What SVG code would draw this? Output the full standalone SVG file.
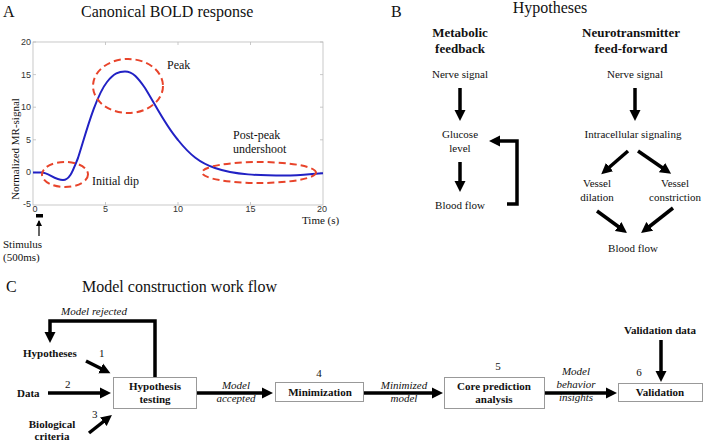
<svg xmlns="http://www.w3.org/2000/svg" width="705" height="443" viewBox="0 0 705 443" font-family="'Liberation Serif', 'DejaVu Serif', serif">
<style>
text{font-family:'Liberation Serif','DejaVu Serif',serif;fill:#111}
.t16{font-size:16px}
.t12{font-size:12px}
.t11{font-size:11px}
.b13{font-size:13px;font-weight:bold}
.b11{font-size:11px;font-weight:bold}
.i11{font-size:11px;font-style:italic}
text.tick{font-family:'Liberation Sans',Arial,sans-serif;font-size:9px;fill:#333}
.mid{text-anchor:middle}
.ell{fill:none;stroke:#e8442b;stroke-width:2;stroke-dasharray:7 4}
.arr{stroke:#000;stroke-width:3.5;fill:none;marker-end:url(#ah)}
.box{fill:#fff;stroke:#999;stroke-width:1}
</style>
<defs>
<marker id="ah" markerUnits="userSpaceOnUse" markerWidth="12" markerHeight="12" refX="6" refY="6" orient="auto">
<path d="M0,0.5 L11,6 L0,11.5 z" fill="#000"/>
</marker>
<marker id="sa" markerUnits="userSpaceOnUse" markerWidth="8" markerHeight="8" refX="5" refY="4" orient="auto">
<path d="M0,1 L6,4 L0,7 z" fill="#000"/>
</marker>
</defs>

<!-- Panel A -->
<g id="panelA">
<text class="t16" x="3" y="17">A</text>
<text class="t16" x="81" y="17">Canonical BOLD response</text>
<rect x="33" y="42" width="290" height="163" fill="#fff" stroke="#bbb" stroke-width="0.8"/>
<g stroke="#bbb" stroke-width="0.8">
<path d="M33,42h3M33,74.6h3M33,107.2h3M33,139.8h3M33,172.4h3M320,42h3M320,74.6h3M320,107.2h3M320,139.8h3M320,172.4h3"/>
<path d="M105.5,205v-3M178,205v-3M250.5,205v-3M105.5,42v3M178,42v3M250.5,42v3"/>
</g>
<g>
<text class="tick" x="31" y="45" text-anchor="end">20</text>
<text class="tick" x="31" y="77.6" text-anchor="end">15</text>
<text class="tick" x="31" y="110.2" text-anchor="end">10</text>
<text class="tick" x="31" y="142.8" text-anchor="end">5</text>
<text class="tick" x="31" y="175.4" text-anchor="end">0</text>
<text class="tick" x="31" y="207" text-anchor="end">-5</text>
<text class="tick" x="35" y="212" text-anchor="middle">0</text>
<text class="tick" x="105.5" y="212" text-anchor="middle">5</text>
<text class="tick" x="178" y="212" text-anchor="middle">10</text>
<text class="tick" x="250.5" y="212" text-anchor="middle">15</text>
<text class="tick" x="322" y="212" text-anchor="middle">20</text>
</g>
<text class="t11" x="302" y="224">Time (s)</text>
<text class="t11 mid" transform="translate(19,149) rotate(-90)">Normalized MR-signal</text>
<path d="M33,172.4 L42,172.4 C48,172.4 55,180 63,180 C70,180 73,170 78,158 C84,140 95,97 107,82 C114,73 119,71.6 125,71.6 C133,71.6 138,78 145,88 C155,104 165,125 178,140 C190,155 200,163 215,168 C235,175 260,175.5 285,175.5 C300,175.5 315,173.5 323,173.2" fill="none" stroke="#2121c4" stroke-width="2"/>
<ellipse class="ell" cx="65" cy="174.5" rx="23" ry="12.5"/>
<ellipse class="ell" cx="128" cy="86" rx="35" ry="27"/>
<ellipse class="ell" cx="259" cy="172.5" rx="57" ry="10.5"/>
<text class="t12" x="167" y="69">Peak</text>
<text class="t12" x="233" y="139">Post-peak</text>
<text class="t12" x="233" y="153">undershoot</text>
<text class="t12" x="92" y="185">Initial dip</text>
<rect x="36" y="214" width="7" height="3.5" fill="#000"/>
<line x1="39" y1="236" x2="39" y2="221" stroke="#000" stroke-width="1.2" marker-end="url(#sa)"/>
<text class="t11" x="3" y="248">Stimulus</text>
<text class="t11" x="3" y="261">(500ms)</text>
</g>

<!-- Panel B -->
<g id="panelB-titles">
<text class="t16" x="391" y="17">B</text>
<text class="t16 mid" x="550" y="13">Hypotheses</text>
<text class="b13 mid" x="460" y="37">Metabolic</text>
<text class="b13 mid" x="460" y="53">feedback</text>
<text class="b13 mid" x="631" y="37">Neurotransmitter</text>
<text class="b13 mid" x="631" y="53">feed-forward</text>
</g>
<g id="mf-nerve"><text class="t11 mid" x="460" y="78">Nerve signal</text></g>
<g id="mf-glucose"><text class="t11 mid" x="460" y="138">Glucose</text><text class="t11 mid" x="460" y="152">level</text></g>
<g id="mf-blood"><text class="t11 mid" x="460" y="209">Blood flow</text></g>
<g id="nf-nerve"><text class="t11 mid" x="635" y="78">Nerve signal</text></g>
<g id="nf-intra"><text class="t11 mid" x="633" y="138">Intracellular signaling</text></g>
<g id="nf-dil"><text class="t11 mid" x="597" y="187">Vessel</text><text class="t11 mid" x="597" y="201">dilation</text></g>
<g id="nf-con"><text class="t11 mid" x="675" y="187">Vessel</text><text class="t11 mid" x="675" y="201">constriction</text></g>
<g id="nf-blood"><text class="t11 mid" x="633" y="252">Blood flow</text></g>

<!-- Panel C nodes -->
<g id="panelC-title">
<text class="t16" x="6" y="292">C</text>
<text class="t16" x="82" y="292">Model construction work flow</text>
</g>
<g id="c-hyp"><text class="b11" x="23" y="357">Hypotheses</text></g>
<g id="c-data"><text class="b11" x="17" y="397">Data</text></g>
<g id="c-bio"><text class="b11 mid" x="52" y="428">Biological</text><text class="b11 mid" x="52" y="440">criteria</text></g>
<g id="c-test"><rect class="box" x="113.5" y="377.5" width="83" height="31"/><text class="b11 mid" x="155" y="390">Hypothesis</text><text class="b11 mid" x="155" y="403">testing</text></g>
<g id="c-min"><rect class="box" x="275.5" y="382.5" width="88" height="19"/><text class="b11 mid" x="320" y="396">Minimization</text><text class="t11 mid" x="319" y="377">4</text></g>
<g id="c-core"><rect class="box" x="444.5" y="377.5" width="100" height="31"/><text class="b11 mid" x="494" y="390">Core prediction</text><text class="b11 mid" x="494" y="403">analysis</text><text class="t11 mid" x="498" y="370">5</text></g>
<g id="c-val"><rect class="box" x="618.5" y="383.5" width="84" height="18"/><text class="b11 mid" x="660" y="396">Validation</text><text class="t11 mid" x="639" y="376">6</text></g>
<g id="c-vdata"><text class="b11 mid" x="660" y="334">Validation data</text></g>

<!-- Connectors -->
<g id="connectors">
<line class="arr" x1="460" y1="88" x2="460" y2="116"/>
<line class="arr" x1="460" y1="162" x2="460" y2="187"/>
<path class="arr" d="M507,204 H517 V141 H494"/>
<line class="arr" x1="635" y1="88" x2="635" y2="116"/>
<line class="arr" x1="628" y1="151" x2="605" y2="171"/>
<line class="arr" x1="638" y1="151" x2="667" y2="171"/>
<line class="arr" x1="597" y1="211" x2="623" y2="230"/>
<line class="arr" x1="673" y1="208" x2="645" y2="230"/>

<path class="arr" d="M155,377 V321 H50 V338"/>
<line class="arr" x1="86" y1="361" x2="106" y2="371"/>
<line class="arr" x1="48" y1="393" x2="106" y2="393"/>
<line class="arr" x1="89" y1="433" x2="108" y2="418"/>
<line class="arr" x1="197" y1="393" x2="268" y2="393"/>
<line class="arr" x1="364" y1="393" x2="438" y2="393"/>
<line class="arr" x1="545" y1="393" x2="612" y2="393"/>
<line class="arr" x1="661" y1="340" x2="661" y2="377"/>
</g>
<g id="conn-labels">
<text class="t11" x="99" y="357">1</text>
<text class="t11" x="65" y="388">2</text>
<text class="t11" x="92" y="418">3</text>
<text class="i11 mid" x="94" y="315">Model rejected</text>
<text class="i11 mid" x="236" y="389">Model</text>
<text class="i11 mid" x="236" y="402">accepted</text>
<text class="i11 mid" x="404" y="389">Minimized</text>
<text class="i11 mid" x="404" y="402">model</text>
<text class="i11 mid" x="576" y="375">Model</text>
<text class="i11 mid" x="576" y="388">behavior</text>
<text class="i11 mid" x="576" y="401">insights</text>
</g>
</svg>
